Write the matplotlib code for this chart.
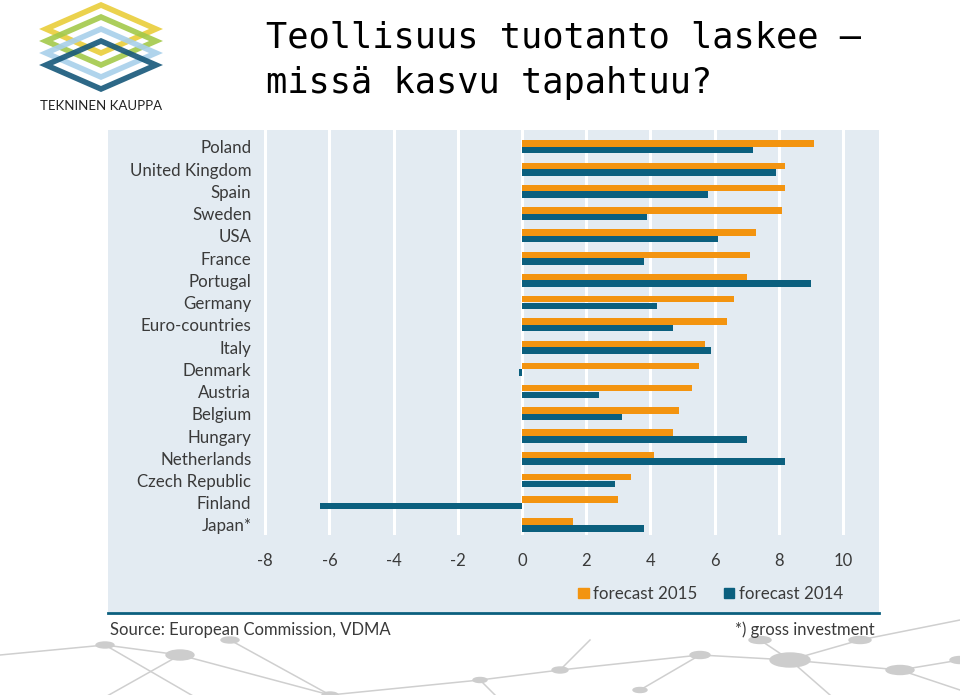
import matplotlib
matplotlib.use("Agg")
import matplotlib.pyplot as plt
from matplotlib.patches import Rectangle, Polygon, Ellipse
from matplotlib.lines import Line2D

plt.rcParams['axes.unicode_minus'] = False

countries = ["Poland", "United Kingdom", "Spain", "Sweden", "USA", "France",
             "Portugal", "Germany", "Euro-countries", "Italy", "Denmark",
             "Austria", "Belgium", "Hungary", "Netherlands", "Czech Republic",
             "Finland", "Japan*"]
forecast_2015 = [9.1, 8.2, 8.2, 8.1, 7.3, 7.1, 7.0, 6.6, 6.4, 5.7, 5.5,
                 5.3, 4.9, 4.7, 4.1, 3.4, 3.0, 1.6]
forecast_2014 = [7.2, 7.9, 5.8, 3.9, 6.1, 3.8, 9.0, 4.2, 4.7, 5.9, -0.1,
                 2.4, 3.1, 7.0, 8.2, 2.9, -6.3, 3.8]
xticks = [-8, -6, -4, -2, 0, 2, 4, 6, 8, 10]
series_labels = ["forecast 2015", "forecast 2014"]

ORANGE = "#f39410"
BLUE = "#0b5f7e"
PANEL = "#e3ebf2"
TXT = "#3a3a3a"

W, H = 960, 695
fig = plt.figure(figsize=(9.6, 6.95), dpi=100)
fig.patch.set_facecolor("white")

def fx(px):
    return px / W

def fy(py):
    return 1 - py / H

# background network decoration (bottom)
net_ax = fig.add_axes([0, 0, 1, 1], zorder=-5)
net_ax.set_xlim(0, W)
net_ax.set_ylim(H, 0)
net_ax.axis("off")
segs = [((100, 700), (180, 655)), ((180, 655), (330, 695)), ((180, 655), (105, 645)),
        ((105, 645), (0, 655)), ((105, 645), (200, 700)), ((330, 695), (480, 680)),
        ((480, 680), (560, 670)), ((560, 670), (700, 655)), ((700, 655), (790, 660)),
        ((790, 660), (860, 640)), ((790, 660), (900, 670)), ((900, 670), (960, 660)),
        ((790, 660), (830, 695)), ((700, 655), (640, 690)), ((560, 670), (590, 640)),
        ((480, 680), (500, 700)), ((860, 640), (960, 620)), ((900, 670), (960, 690)),
        ((230, 640), (330, 695)), ((760, 640), (790, 660))]
for (a, b) in segs:
    net_ax.plot([a[0], b[0]], [a[1], b[1]], color="#cfcfcf", lw=1.1, zorder=-5)
nodes = [(180, 655, 28, 10), (105, 645, 18, 6), (330, 695, 16, 6), (480, 680, 14, 5),
         (560, 670, 16, 6), (700, 655, 20, 7), (790, 660, 40, 14), (860, 640, 22, 7),
         (900, 670, 28, 9), (960, 660, 20, 7), (760, 640, 22, 7), (640, 690, 14, 5),
         (230, 640, 18, 6)]
for (x, y, w, h) in nodes:
    net_ax.add_patch(Ellipse((x, y), w, h, color="#cdcdcd", zorder=-4))

# panel background
fig.patches.append(Rectangle((fx(108), fy(612)), fx(879 - 108), (612 - 130) / H,
                             transform=fig.transFigure, facecolor=PANEL,
                             edgecolor="none", zorder=-3))
fig.lines.append(Line2D([fx(108), fx(879)], [fy(613), fy(613)],
                        transform=fig.transFigure, color=BLUE, lw=2))

# main axes
ax = fig.add_axes([fx(255.6), fy(535), fx(852.6 - 255.6), (535 - 130) / H])
ax.set_facecolor("none")
n = len(countries)
ys = list(range(n))
h = 0.29
off = 0.15
ax.barh([y - off for y in ys], forecast_2015, height=h, color=ORANGE, zorder=3,
        label=series_labels[0])
ax.barh([y + off for y in ys], forecast_2014, height=h, color=BLUE, zorder=3,
        label=series_labels[1])
ax.set_xlim(-8.3, 10.3)
ax.set_ylim(17.45, -0.76)
ax.set_xticks(xticks)
ax.set_xticklabels([str(t) for t in xticks])
ax.set_yticks(ys)
ax.set_yticklabels(countries)
for s in ax.spines.values():
    s.set_visible(False)
ax.tick_params(axis="both", length=0, colors=TXT)
ax.tick_params(axis="x", pad=13, labelsize=12)
ax.tick_params(axis="y", pad=3, labelsize=12.2)
for lab in ax.get_xticklabels() + ax.get_yticklabels():
    lab.set_fontfamily("Lato")
ax.grid(axis="x", color="white", lw=2.2, zorder=1)
ax.set_axisbelow(True)

# legend
handles = [Rectangle((0, 0), 1, 1, color=ORANGE), Rectangle((0, 0), 1, 1, color=BLUE)]
fig.legend(handles, series_labels, loc="center right",
           bbox_to_anchor=(fx(858), fy(594)), ncol=2, frameon=False,
           prop={"family": "Lato", "size": 12.2}, handlelength=0.6, handleheight=0.6,
           handletextpad=0.25, columnspacing=1.6, labelcolor=TXT)

# source texts
fig.text(fx(110), fy(630), "Source: European Commission, VDMA", fontsize=12,
         family="Lato", color=TXT, va="center", ha="left")
fig.text(fx(875), fy(630), "*) gross investment", fontsize=12,
         family="Lato", color=TXT, va="center", ha="right")

# title
fig.text(fx(266), fy(48), "Teollisuus tuotanto laskee –", fontsize=25.5,
         family="DejaVu Sans Mono", color="black", va="baseline", ha="left")
fig.text(fx(266), fy(93), "missä kasvu tapahtuu?", fontsize=25.5,
         family="DejaVu Sans Mono", color="black", va="baseline", ha="left")

# logo
logo = fig.add_axes([0, 0, 1, 1], zorder=-2)
logo.set_xlim(0, W)
logo.set_ylim(H, 0)
logo.axis("off")
for cy, col in [(29, "#e9cd3a"), (41, "#a3c94a"), (53, "#a8d0ea"), (65, "#16587a")]:
    logo.add_patch(Polygon([(101, cy - 24), (156, cy), (101, cy + 24), (46, cy)],
                           closed=True, fill=False, edgecolor=col, lw=4, alpha=0.9))
fig.text(fx(101), fy(106), "TEKNINEN KAUPPA", fontsize=9.5, family="Lato",
         color="#222222", ha="center", va="center")

fig.savefig("out.png", dpi=100)
